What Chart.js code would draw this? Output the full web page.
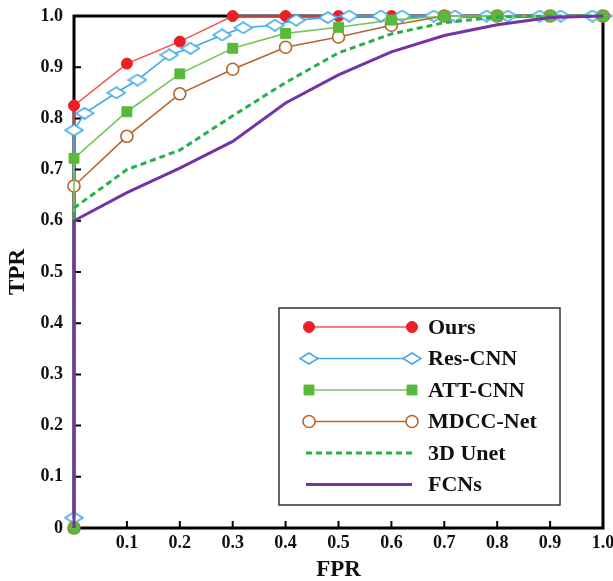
<!DOCTYPE html>
<html>
<head>
<meta charset="utf-8">
<script src="https://cdn.jsdelivr.net/npm/chart.js@4.4.0/dist/chart.umd.min.js"></script>
<style>
  html, body { margin: 0; padding: 0; background: #fff; }
  #wrap { width: 613px; height: 581px; }
</style>
</head>
<body>
<div id="wrap"><canvas id="rocChart" width="613" height="581"></canvas></div>
<script>
// FPR values shared by most curves (first 0 is the origin)
const fprSteps = [0, 0, 0.1, 0.2, 0.3, 0.4, 0.5, 0.6, 0.7, 0.8, 0.9, 1.0];
const oursTPR = [0, 0.825, 0.907, 0.950, 1.0, 1.0, 1.0, 1.0, 1.0, 1.0, 1.0, 1.0];
const attTPR  = [0, 0.722, 0.813, 0.887, 0.937, 0.966, 0.978, 0.992, 1.0, 1.0, 1.0, 1.0];
const mdccTPR = [0, 0.668, 0.765, 0.848, 0.896, 0.939, 0.959, 0.982, 1.0, 1.0, 1.0, 1.0];
const unetTPR = [0, 0.625, 0.700, 0.738, 0.805, 0.870, 0.928, 0.965, 0.987, 0.998, 1.0, 1.0];
const fcnTPR  = [0, 0.600, 0.655, 0.703, 0.755, 0.830, 0.885, 0.930, 0.962, 0.983, 0.997, 1.0];

// Res-CNN has its own sample points
const resFPR = [0, 0, 0.02, 0.08, 0.12, 0.18, 0.22, 0.28, 0.32, 0.38, 0.42, 0.48, 0.52,
                0.58, 0.62, 0.68, 0.72, 0.78, 0.82, 0.88, 0.92, 0.98, 1.0];
const resTPR = [0.02, 0.777, 0.810, 0.850, 0.875, 0.924, 0.937, 0.963, 0.977, 0.982, 0.992, 0.997, 1.0,
                1.0, 1.0, 1.0, 1.0, 1.0, 1.0, 1.0, 1.0, 1.0, 1.0];

// tick labels
const xTickLabels = ['', '0.1', '0.2', '0.3', '0.4', '0.5', '0.6', '0.7', '0.8', '0.9', '1.0'];
const yTickLabels = ['0', '0.1', '0.2', '0.3', '0.4', '0.5', '0.6', '0.7', '0.8', '0.9', '1.0'];

const SERIF = '"Liberation Serif", "Times New Roman", serif';

function toPoints(xs, ys) {
    return xs.map((x, i) => ({ x: x, y: ys[i] }));
}

// hollow wide diamond used by Res-CNN
function makeDiamond(w, h, color) {
    const c = document.createElement('canvas');
    c.width = w; c.height = h;
    const g = c.getContext('2d');
    g.beginPath();
    g.moveTo(w / 2, 1);
    g.lineTo(w - 1, h / 2);
    g.lineTo(w / 2, h - 1);
    g.lineTo(1, h / 2);
    g.closePath();
    g.fillStyle = '#fff';
    g.fill();
    g.strokeStyle = color;
    g.lineWidth = 1.5;
    g.stroke();
    return c;
}

const blue = '#45a8e4';
const diamond = makeDiamond(20, 13, blue);

const datasets = [
    {
        label: 'Ours', data: toPoints(fprSteps, oursTPR),
        borderColor: '#f25a50', borderWidth: 1.6,
        pointStyle: 'circle', pointRadius: 5.5,
        pointBackgroundColor: '#ec1f26', pointBorderColor: '#ec1f26', pointBorderWidth: 1,
        order: 5
    },
    {
        label: 'Res-CNN', data: toPoints(resFPR, resTPR),
        borderColor: blue, borderWidth: 1.6,
        pointStyle: diamond, pointRadius: 6,
        order: 4
    },
    {
        label: 'ATT-CNN', data: toPoints(fprSteps, attTPR),
        borderColor: '#74c85a', borderWidth: 1.6,
        pointStyle: 'rect', pointRadius: 7,
        pointBackgroundColor: '#5ab83b', pointBorderColor: '#5ab83b', pointBorderWidth: 1,
        order: 2
    },
    {
        label: 'MDCC-Net', data: toPoints(fprSteps, mdccTPR),
        borderColor: '#b8642e', borderWidth: 1.6,
        pointStyle: 'circle', pointRadius: 6,
        pointBackgroundColor: '#fff', pointBorderColor: '#b8642e', pointBorderWidth: 1.6,
        order: 3
    },
    {
        label: '3D Unet', data: toPoints(fprSteps, unetTPR),
        borderColor: '#24b04a', borderWidth: 3, borderDash: [6, 4],
        pointRadius: 0,
        order: 1
    },
    {
        label: 'FCNs', data: toPoints(fprSteps, fcnTPR),
        borderColor: '#7334a6', borderWidth: 3,
        pointRadius: 0,
        order: 0
    }
];
datasets.forEach(ds => { ds.fill = false; ds.tension = 0; ds.clip = false; });

// frame and inward ticks, drawn under the curves
const framePlugin = {
    id: 'frame',
    beforeDatasetsDraw(chart) {
        const { ctx, chartArea: a, scales } = chart;
        ctx.save();
        ctx.strokeStyle = '#000';
        ctx.lineWidth = 3;
        ctx.strokeRect(a.left, a.top, a.right - a.left, a.bottom - a.top);
        ctx.lineWidth = 2;
        ctx.beginPath();
        for (let i = 1; i < 10; i++) {
            const v = i / 10;
            const px = scales.x.getPixelForValue(v);
            ctx.moveTo(px, a.bottom);
            ctx.lineTo(px, a.bottom - 7);
            const py = scales.y.getPixelForValue(v);
            ctx.moveTo(a.left, py);
            ctx.lineTo(a.left + 7, py);
        }
        ctx.stroke();
        ctx.restore();
    }
};

function drawMarker(ctx, ds, x, y) {
    const st = ds.pointStyle;
    if (!ds.pointRadius) return;
    if (st instanceof HTMLCanvasElement) {
        ctx.drawImage(st, x - st.width / 2, y - st.height / 2);
        return;
    }
    ctx.beginPath();
    if (st === 'rect') {
        const s = Math.SQRT1_2 * ds.pointRadius;
        ctx.rect(x - s, y - s, 2 * s, 2 * s);
    } else {
        ctx.arc(x, y, ds.pointRadius, 0, Math.PI * 2);
    }
    ctx.fillStyle = ds.pointBackgroundColor;
    ctx.fill();
    ctx.lineWidth = ds.pointBorderWidth;
    ctx.strokeStyle = ds.pointBorderColor;
    ctx.stroke();
}

// boxed legend inside the plot, line with a marker at each end
const legendPlugin = {
    id: 'boxLegend',
    afterDraw(chart) {
        const { ctx } = chart;
        const box = { left: 279, top: 308, right: 560, bottom: 505 };
        ctx.save();
        ctx.fillStyle = '#fff';
        ctx.fillRect(box.left, box.top, box.right - box.left, box.bottom - box.top);
        ctx.strokeStyle = '#333';
        ctx.lineWidth = 1.5;
        ctx.strokeRect(box.left, box.top, box.right - box.left, box.bottom - box.top);
        chart.data.datasets.forEach((ds, i) => {
            const y = 327 + i * 31.5;
            const x0 = 309, x1 = 412;
            ctx.beginPath();
            ctx.setLineDash(ds.borderDash || []);
            ctx.strokeStyle = ds.borderColor;
            ctx.lineWidth = ds.borderWidth;
            ctx.moveTo(ds.pointRadius ? x0 : x0 - 3, y);
            ctx.lineTo(x1, y);
            ctx.stroke();
            ctx.setLineDash([]);
            drawMarker(ctx, ds, x0, y);
            drawMarker(ctx, ds, x1, y);
            ctx.fillStyle = '#111';
            ctx.font = 'bold 22px ' + SERIF;
            ctx.textBaseline = 'middle';
            ctx.textAlign = 'left';
            ctx.fillText(ds.label, 428, y + 1);
        });
        ctx.restore();
    }
};

new Chart(document.getElementById('rocChart'), {
    type: 'line',
    data: { datasets: datasets },
    options: {
        responsive: false,
        animation: false,
        devicePixelRatio: 1,
        layout: { padding: { top: 16, right: 10, left: 0, bottom: 0 } },
        plugins: { legend: { display: false }, tooltip: { enabled: false } },
        scales: {
            x: {
                type: 'linear', min: 0, max: 1,
                grid: { display: false, drawTicks: false }, border: { display: false },
                ticks: {
                    stepSize: 0.1, padding: 5, color: '#111',
                    font: { family: SERIF, size: 18, weight: 'bold' },
                    maxRotation: 0, autoSkip: false,
                    callback: (v, i) => xTickLabels[i]
                },
                title: {
                    display: true, text: 'FPR', color: '#111',
                    font: { family: SERIF, size: 23, weight: 'bold' },
                    padding: { top: 0, bottom: -3 }
                },
                afterFit: s => { s.height = 53; s.paddingLeft = 0; s.paddingRight = 0; }
            },
            y: {
                type: 'linear', min: 0, max: 1,
                grid: { display: false, drawTicks: false }, border: { display: false },
                ticks: {
                    stepSize: 0.1, padding: 11, color: '#111',
                    font: { family: SERIF, size: 18, weight: 'bold' },
                    autoSkip: false,
                    callback: (v, i) => yTickLabels[i]
                },
                title: {
                    display: true, text: 'TPR', color: '#111',
                    font: { family: SERIF, size: 23, weight: 'bold' },
                    padding: { top: 4, bottom: 0 }
                },
                afterFit: s => { s.width = 74; s.paddingTop = 0; s.paddingBottom = 0; }
            }
        }
    },
    plugins: [framePlugin, legendPlugin]
});
</script>
</body>
</html>
